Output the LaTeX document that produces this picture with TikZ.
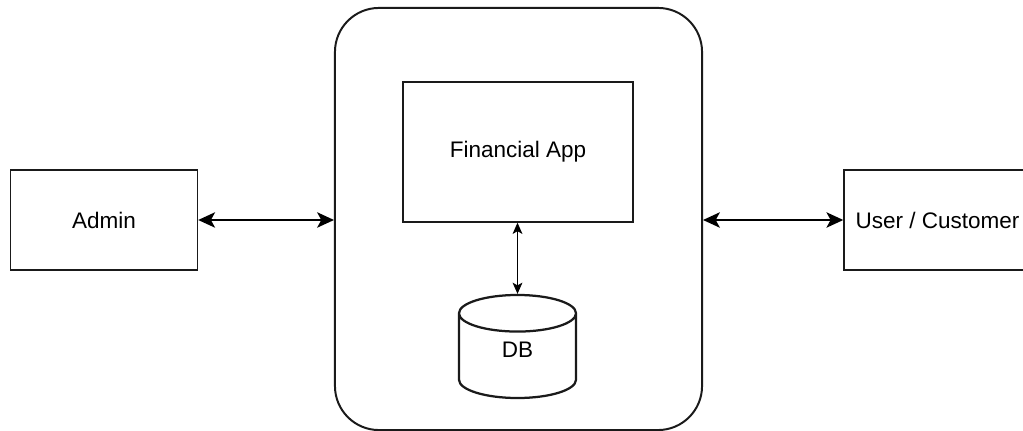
\documentclass[tikz,border=0pt]{standalone}
\usepackage{fontspec}
\setmainfont{Liberation Sans}
\usepackage{xcolor}
\usetikzlibrary{shapes,shapes.geometric,arrows.meta}
\definecolor{linegray}{HTML}{1A1A1A}
\tikzstyle{block} = [draw=linegray, line width=1pt, rectangle, minimum height=2.5cm, minimum width=4.675cm, text centered, font=\fontsize{16}{19}\selectfont]
\tikzstyle{server} = [draw=linegray, line width=1.4pt, rectangle, rounded corners=1.1cm, minimum width=9.175cm, minimum height=10.55cm]
\tikzstyle{database} = [draw=linegray, line width=1.6pt, cylinder, shape border rotate=90, aspect=0.9, minimum width=2.925cm, minimum height=2.575cm, text depth=14pt, font=\fontsize{16}{19}\selectfont]
\tikzstyle{arrow} = [line width=1pt, {Stealth[length=12pt,width=11pt,inset=3pt]}-{Stealth[length=12pt,width=11pt,inset=3pt]}]
\tikzstyle{thinarrow} = [line width=0.6pt, {Stealth[length=8pt,width=7pt,inset=2pt]}-{Stealth[length=8pt,width=7pt,inset=2pt]}]

\begin{document}
\begin{tikzpicture}[x=0.025cm, y=-0.025cm]
\useasboundingbox (0,0) rectangle (1023,431);

% Place nodes
\node [server](host) at (518.5,219){};
\node [block, minimum width=5.75cm, minimum height=3.5cm](app) at (518,152){Financial App};
\node [database, anchor=shape center](db) at (517.5,346.5){DB};
\node [block](admin) at (104,220){Admin};
\node [block](customer) at (937.5,220){User / Customer};

% Place lines
\draw [arrow] (admin.east) -- (admin.east -| host.west);
\draw [arrow] (customer.west -| host.east) -- (customer.west);
\draw [thinarrow] (app.south -| db.north) -- (db.north);

\end{tikzpicture}
\end{document}
